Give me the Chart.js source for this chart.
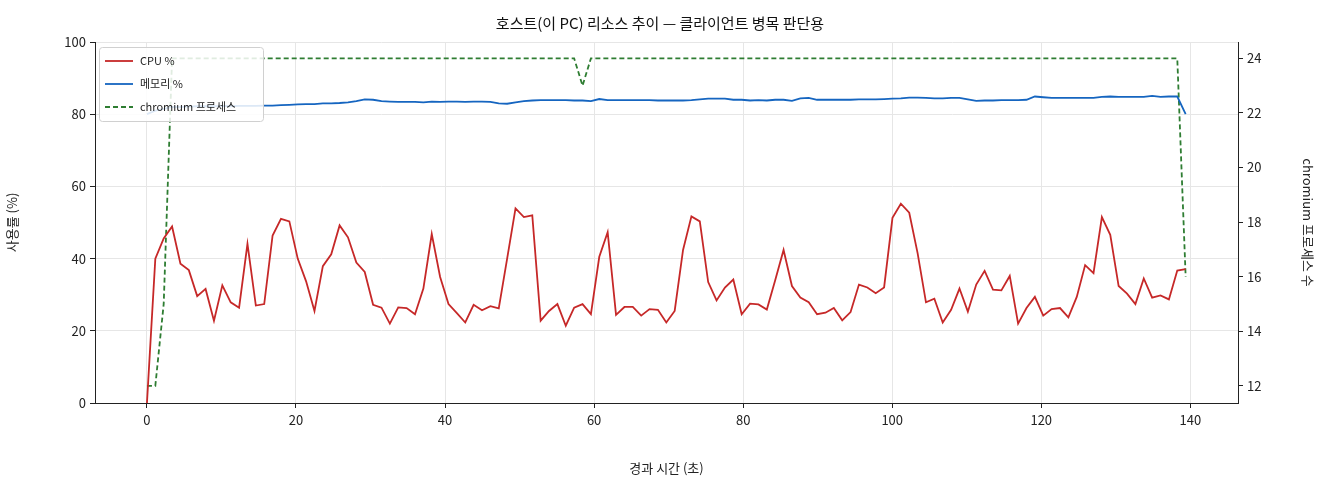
<!DOCTYPE html>
<html><head><meta charset="utf-8">
<script src="https://cdn.jsdelivr.net/npm/chart.js@4"></script>
<style>html,body{margin:0;padding:0;background:#fff}</style>
</head><body><canvas id="c" width="1320" height="480" style="width:1320px;height:480px;display:block"></canvas>
<script>
const STEP = 1.124;
const cpu = [0,40,45.6,48.9,38.6,36.8,29.6,31.6,22.8,32.6,27.9,26.4,44.1,27,27.4,46.4,51,50.3,40,33.7,25.5,37.9,41.2,49.2,45.9,38.9,36.3,27.2,26.4,22,26.5,26.3,24.6,31.7,46.8,34.9,27.4,24.9,22.3,27.2,25.7,26.8,26.2,40,53.9,51.5,52,22.8,25.5,27.4,21.4,26.4,27.4,24.6,40.5,47.3,24.4,26.6,26.6,24.2,26,25.8,22.3,25.5,42.4,51.7,50.3,33.5,28.4,32,34.2,24.6,27.5,27.3,25.9,34,42.4,32.4,29.2,27.9,24.6,25,26.3,22.9,25.2,32.8,32,30.4,32,51.3,55.2,52.7,41.5,27.9,28.9,22.3,25.8,31.7,25.3,32.8,36.6,31.4,31.2,35.2,22,26.3,29.4,24.2,26,26.3,23.7,29.4,38.2,36,51.5,46.6,32.4,30.3,27.4,34.5,29.2,29.8,28.7,36.7,37.1];
const mem = [80,81,81.5,82,82,82.1,82.2,82.2,82.2,82.3,82.2,82.3,82.3,82.3,82.4,82.4,82.5,82.6,82.7,82.8,82.8,83,83,83.1,83.3,83.6,84.1,84.0,83.6,83.5,83.4,83.4,83.4,83.3,83.5,83.4,83.5,83.5,83.4,83.5,83.5,83.4,83.0,82.9,83.3,83.6,83.8,83.9,83.9,83.9,83.9,83.8,83.8,83.6,84.2,83.9,83.9,83.9,83.9,83.9,83.9,83.8,83.8,83.8,83.8,83.9,84.1,84.3,84.3,84.3,84.0,84.0,83.8,83.9,83.8,84.0,84.0,83.7,84.4,84.5,84.0,84.0,84.0,84.0,84.0,84.1,84.1,84.1,84.2,84.3,84.4,84.6,84.6,84.5,84.4,84.4,84.5,84.5,84.1,83.7,83.8,83.8,83.9,83.9,83.9,84.0,84.9,84.7,84.5,84.5,84.5,84.5,84.5,84.5,84.8,84.9,84.8,84.8,84.8,84.8,85.1,84.8,84.9,84.9,80.0];
const chrom = [12,12,15,24,24,24,24,24,24,24,24,24,24,24,24,24,24,24,24,24,24,24,24,24,24,24,24,24,24,24,24,24,24,24,24,24,24,24,24,24,24,24,24,24,24,24,24,24,24,24,24,24,23,24,24,24,24,24,24,24,24,24,24,24,24,24,24,24,24,24,24,24,24,24,24,24,24,24,24,24,24,24,24,24,24,24,24,24,24,24,24,24,24,24,24,24,24,24,24,24,24,24,24,24,24,24,24,24,24,24,24,24,24,24,24,24,24,24,24,24,24,24,24,24,16];
const xTicks = [0,20,40,60,80,100,120,140];
const leftTicks = [0,20,40,60,80,100];
const rightTicks = [12,14,16,18,20,22,24];
const FONT = "'Noto Sans CJK KR','DejaVu Sans',sans-serif";
const pts = a => a.map((v,i)=>({x:i*STEP,y:v}));

const legendPlugin = {id:'inLegend', afterDraw(ch){
  const c=ch.ctx, a=ch.chartArea; const x0=a.left+4, y0=a.top+5;
  c.save(); c.fillStyle='rgba(255,255,255,0.85)'; c.strokeStyle='#d0d0d0'; c.lineWidth=1;
  c.beginPath(); c.roundRect(x0+0.5,y0+0.5,164,74,3); c.fill(); c.stroke();
  c.font='11px '+FONT; c.textBaseline='middle';
  ch.data.datasets.forEach((d,i)=>{const y=y0+14+i*23;
    c.strokeStyle=d.borderColor; c.lineWidth=1.8; c.setLineDash(d.borderDash||[]);
    c.beginPath(); c.moveTo(x0+6,y); c.lineTo(x0+34,y); c.stroke(); c.setLineDash([]);
    c.fillStyle='#222'; c.fillText(d.label,x0+41,y);});
  c.restore();}};

new Chart(document.getElementById('c'),{type:'line',
 data:{datasets:[
  {label:'CPU %',data:pts(cpu),borderColor:'#c62828',borderWidth:1.8,pointRadius:0,yAxisID:'y'},
  {label:'메모리 %',data:pts(mem),borderColor:'#1565c0',borderWidth:1.8,pointRadius:0,yAxisID:'y'},
  {label:'chromium 프로세스',data:pts(chrom),borderColor:'#2e7d32',borderWidth:1.8,borderDash:[5,3],pointRadius:0,yAxisID:'y2'}]},
 options:{responsive:false,animation:false,devicePixelRatio:1,
  layout:{padding:{top:0,left:0,right:0,bottom:0}},
  plugins:{legend:{display:false},tooltip:{enabled:false},
   title:{display:true,text:'호스트(이 PC) 리소스 추이 — 클라이언트 병목 판단용',color:'#111',font:{family:FONT,size:15,weight:'normal'},padding:{top:14,bottom:10}}},
  scales:{
   x:{type:'linear',min:-6.97,max:146.4,afterBuildTicks:s=>{s.ticks=xTicks.map(v=>({value:v}))},
     grid:{color:'#e6e6e6',tickColor:'#222',tickLength:5},border:{color:'#222'},
     ticks:{color:'#222',font:{family:FONT,size:13},maxRotation:0,padding:4},
     title:{display:true,text:'경과 시간 (초)',color:'#222',font:{family:FONT,size:13}},
     afterFit:s=>{s.height=77}},
   y:{position:'left',min:0,max:100,afterBuildTicks:s=>{s.ticks=leftTicks.map(v=>({value:v}))},
     grid:{color:'#e6e6e6',tickColor:'#222',tickLength:5},border:{color:'#222'},
     ticks:{color:'#222',font:{family:FONT,size:13},padding:4},
     title:{display:true,text:'사용률 (%)',color:'#222',font:{family:FONT,size:13}},
     afterFit:s=>{s.width=95}},
   y2:{position:'right',min:11.37,max:24.6,afterBuildTicks:s=>{s.ticks=rightTicks.map(v=>({value:v}))},
     grid:{drawOnChartArea:false,tickColor:'#222',tickLength:5},border:{color:'#222'},
     ticks:{color:'#222',font:{family:FONT,size:13},padding:4},
     title:{display:true,text:'chromium 프로세스 수',color:'#222',font:{family:FONT,size:13}},
     afterFit:s=>{s.width=82}}}},
 plugins:[legendPlugin]});
</script></body></html>
